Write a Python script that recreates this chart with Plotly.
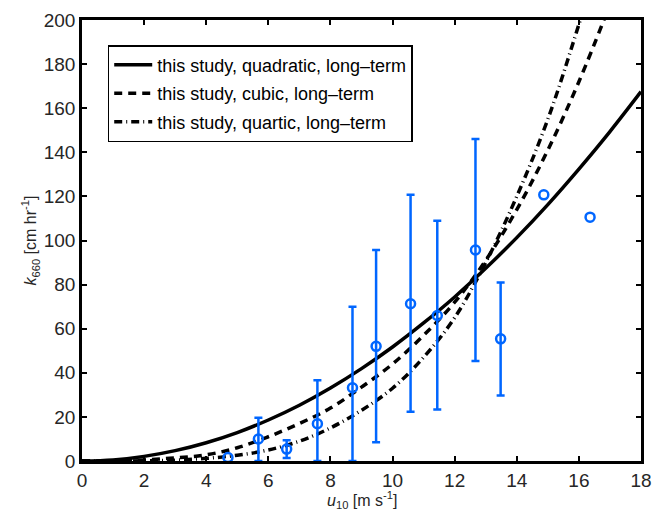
import plotly.graph_objects as go

# ---- data ----
quad_u = [0, 1, 2, 3, 4, 5, 6, 7, 8, 9, 10, 11, 12, 13, 14, 15, 16, 17, 18]
quad_k = [0, 0.5, 2.1, 4.7, 8.3, 12.9, 18.6, 25.3, 33.1, 41.9, 51.7, 62.6, 74.4, 87.4, 101.3, 116.3, 132.4, 149.4, 167.5]

cubic_u = [0, 1, 2, 3, 4, 5, 6, 7, 8, 9, 10, 11, 12, 13, 14, 15, 16, 17]
cubic_k = [0, 0.1, 0.5, 1.4, 2.8, 6.0, 11.0, 17.0, 24.0, 33.5, 44.0, 57.0, 72.0, 91.0, 114.0, 141.0, 172.0, 207.0]

quart_u = [0, 1, 2, 3, 4, 5, 6, 7, 8, 9, 10, 11, 12, 13, 14, 15, 16, 17]
quart_k = [0, 0.01, 0.1, 0.4, 1.2, 2.6, 5.0, 9.0, 15.0, 23.0, 33.0, 47.0, 65.0, 90.0, 120.0, 155.0, 198.0, 245.0]

obs_u = [4.70, 5.68, 6.59, 7.58, 8.71, 9.47, 10.58, 11.44, 12.67, 13.48, 14.87, 16.36]
obs_k = [1.6, 10.0, 5.4, 16.9, 33.2, 52.0, 71.3, 66.0, 95.7, 55.4, 120.7, 110.6]
obs_top = [None, 19.6, 9.4, 36.6, 70.0, 95.7, 120.7, 109.0, 146.0, 80.9, None, None]
obs_bot = [None, 0.0, 1.4, 0.0, 0.0, 8.5, 22.3, 23.3, 45.4, 29.7, None, None]

x_ticks = [0, 2, 4, 6, 8, 10, 12, 14, 16, 18]
y_ticks = [0, 20, 40, 60, 80, 100, 120, 140, 160, 180, 200]

legend_names = ["this study, quadratic, long\u2013term",
                "this study, cubic, long\u2013term",
                "this study, quartic, long\u2013term"]
x_title = "<i>u</i><sub>10</sub> [m s<sup>-1</sup>]"
y_title = "<i>k</i><sub>660</sub> [cm hr<sup>-1</sup>]"

BLUE = "#0066ff"
FONT = "Liberation Sans, Arial, sans-serif"
TXT = "#262626"

fig = go.Figure()

fig.add_trace(go.Scatter(x=quad_u, y=quad_k, mode="lines", name=legend_names[0],
                         line=dict(color="black", width=3.5, shape="spline"),
                         legendgroup="a"))
fig.add_trace(go.Scatter(x=cubic_u, y=cubic_k, mode="lines", name=legend_names[1],
                         line=dict(color="black", width=3.5, dash="8px,6px", shape="spline"),
                         legendgroup="b"))
fig.add_trace(go.Scatter(x=quart_u, y=quart_k, mode="lines", name=legend_names[2],
                         line=dict(color="black", width=3.5, dash="8px,4px,1px,4px", shape="spline"),
                         legendgroup="c"))

# observations with error bars
eu, ek, ep, em = [], [], [], []
nu, nk = [], []
for u, k, t, b in zip(obs_u, obs_k, obs_top, obs_bot):
    if t is None:
        nu.append(u); nk.append(k)
    else:
        eu.append(u); ek.append(k); ep.append(t - k); em.append(k - b)

fig.add_trace(go.Scatter(x=eu, y=ek, mode="markers", showlegend=False,
                         marker=dict(symbol="circle-open", size=9, color=BLUE,
                                     line=dict(width=2.5, color=BLUE)),
                         error_y=dict(type="data", symmetric=False, array=ep, arrayminus=em,
                                      color=BLUE, thickness=2.5, width=4)))
fig.add_trace(go.Scatter(x=nu, y=nk, mode="markers", showlegend=False,
                         marker=dict(symbol="circle-open", size=9, color=BLUE,
                                     line=dict(width=2.5, color=BLUE))))

axis_common = dict(showline=True, linecolor="black", linewidth=2.5, mirror="ticks",
                   ticks="inside", ticklen=5, tickwidth=1.5, tickcolor="black",
                   showgrid=False, zeroline=False, automargin=False,
                   tickfont=dict(family=FONT, size=19, color=TXT))

fig.update_xaxes(range=[0, 18], tickvals=x_ticks, ticktext=[str(v) for v in x_ticks],
                 **axis_common)
fig.update_yaxes(range=[0, 200], tickvals=y_ticks, ticktext=[str(v) for v in y_ticks],
                 **axis_common)

fig.add_annotation(text=x_title, xref="paper", yref="paper", x=0.5, y=-0.088,
                   xanchor="center", yanchor="middle", showarrow=False,
                   font=dict(family=FONT, size=16, color=TXT))
fig.add_annotation(text=y_title, xref="paper", yref="paper", x=-0.093, y=0.5,
                   xanchor="center", yanchor="middle", showarrow=False, textangle=-90,
                   font=dict(family=FONT, size=16, color=TXT))

fig.update_layout(
    width=665, height=513,
    margin=dict(l=82, r=24, t=20, b=52),
    paper_bgcolor="white", plot_bgcolor="white",
    font=dict(family=FONT, color=TXT),
    legend=dict(x=0.046, y=0.943, xanchor="left", yanchor="top",
                bgcolor="white", bordercolor="black", borderwidth=1.5,
                font=dict(family=FONT, size=18, color="black"),
                tracegroupgap=2, itemwidth=38),
)

fig.write_html("out.html", config={"displayModeBar": False},
               post_script="document.body.style.margin='0px';")
